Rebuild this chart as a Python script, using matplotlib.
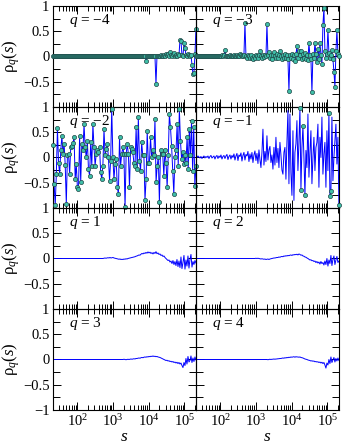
import numpy as np
import matplotlib.pyplot as plt
from matplotlib.ticker import LogLocator, FixedLocator, FixedFormatter, NullFormatter

plt.rcParams['font.family'] = ['Liberation Serif', 'DejaVu Serif']
plt.rcParams['mathtext.fontset'] = 'custom'
plt.rcParams['mathtext.rm'] = 'Liberation Serif'
plt.rcParams['mathtext.it'] = 'Liberation Serif:italic'

# s range of the scan (log spaced)
s_min, s_max = 21, 2.1e5

# rho_q(s)
q_m4 = [
    0, 0, 0, 0, 0, 0, 0, 0, 0, 0,
    0, 0, 0, 0, 0, 0, 0, 0, 0, 0,
    0, 0, 0, 0, 0, 0, 0, 0, 0, 0,
    0, 0, 0, 0, 0, 0, 0, 0, 0, 0,
    0, 0, 0, 0, 0, 0, 0, 0, 0, 0,
    0, 0, 0, 0, 0, 0, 0, 0, 0, 0,
    0, 0, 0, 0, 0, 0, 0, 0, 0, 0,
    0, 0, 0, 0, 0, 0, 0, 0, 0, 0,
    0, 0, 0, 0, 0, 0, 0, 0, 0, 0,
    0, 0, 0.01, -0.08, 0, 0.01, 0, 0, 0.01, 0,
    0, 0.01, 0, -0.55, 0, 0.01, 0, 0.01, 0.02, 0,
    0.01, 0.03, 0.01, 0.04, 0.02, 0.05, 0.01, 0.08, 0.03, 0,
    0.04, 0.07, 0.01, 0.03, 0, 0.05, 0.02, 0.33, 0.31, 0.02,
    0.01, 0.26, 0.17, 0.03, 0, 0.04, 0.02, 0.01, 0.03, -0.16,
    -0.35, -0.33, 0.05, 0.55]

q_m3 = [
    0, 0, 0, 0, 0, 0, 0, 0, 0, 0,
    0, 0, 0, 0, 0, 0, 0, 0, 0, 0,
    0, 0, 0, 0, 0, 0,
    0.02, 0, 0.03, 0.12, 0.01, 0, 0.01, 0, 0.02, 0,
    0.01, 0, 0.02, 0, 0.01, 0.03, 0, 0.01, 0.04, 0.02,
    0, 0.01, 0.03, 0.67, 0.01, -0.02, 0.02, 0, -0.03, 0.02,
    -0.02, -0.05, 0.01, -0.03, 0.02, 0, -0.02, 0.03, 0.1, 0,
    -0.03, 0.02, -0.01, 0.03, 0, 0.64, 0.02, 0.08, -0.02, 0.03,
    -0.04, 0.02, 0.08, 0, -0.03, 0.04, -0.02, 0.02, 0.1, 0,
    -0.04, 0.03, -0.02, 0.05, -0.03, 0.02, -0.05, -0.69, 0.03, -0.02,
    0.05, -0.04, 0.02, -0.08, 0.04, 0.2, -0.03, 0.1, 0.02, 0.1,
    -0.05, 0.05, -0.02, 0.06, -0.04, 0.03, -0.06, 0.26, 0.02, -0.05,
    -0.71, 0.04, -0.03, 0.27, 0.05, -0.1, 0.15, -0.04, 0.27, 0.03,
    -0.15, 0.63, 0.96, 0.1, -0.02, 0.05, 0.53, 0.06, -0.03, 0.02,
    0.12, -0.05, -0.3, -0.6, 0.1, 0.53, 0.05, 0]

q_m2 = [
    0.25, -0.52, -0.95, -0.33, 0.58, -0.10, -0.33, 0.14, 0.43, 0.07,
    0.27, -0.14, -0.92, 0.04, 0.07, -0.33, 0.20, 0.23, 0.28, 0.40,
    -0.43, -0.13, -0.59, -0.62, 0.43, -0.49, 0.27, 0.14, 0.66, 0.20,
    0.0, 0.33, -0.23, -0.36, 0.30, -0.16, 0.66, 0.20, -0.16, 0.07,
    0.14, 0.10, 0.20, -0.29, -0.43, -0.16, 0.56, 0.04, 0.17, 0.27,
    0.0, -0.46, -0.06, 0.97, 0.0, -0.43, -0.13, -0.03, -0.59, -0.72,
    0.40, -0.16, 0.07, 0.20, 0.07, -0.99, 0.07, 0.27, 0.07, -0.59,
    0.20, 0.17, 0.10, -0.10, -0.16, 0.60, -0.23, 0.80, -0.06, -0.26,
    0.30, 0.04, 0.04, -0.85, -0.43, 0.53, -0.10, -0.10, 0.40, 0.0,
    0.14, 0.04, 0.76, -0.49, -0.16, 0.0, -0.89, 0.14, 0.07, 0.07,
    -0.36, 0.14, -0.10, -0.59, 0.04, 0.86, 0.60, 0.23, -0.26, -0.72,
    0.0, 0.14, 0.66, -0.16, 0.96, 0.33, -0.03, 0.10, -0.13, 0.04,
    -0.10, 0.40, -0.23, 0.56, 0.04, 0.73, -0.27, 0.61, -0.57, -0.16]

q_m1 = [
    0.02, 0.0, 0.03, 0.01, -0.01, 0.02, -0.02, 0.01, 0.03, -0.01,
    0.02, 0.0, 0.03, -0.02, 0.02, 0.04, -0.01, 0.01, 0.03, -0.03,
    0.02, 0.04, -0.02, 0.03, 0.0, 0.05, -0.03, 0.02, 0.04, -0.02,
    0.03, 0.06, -0.04, 0.02, 0.05, -0.03, 0.04, 0.0, 0.07, -0.05,
    0.03, 0.08, -0.06, 0.05, 0.02, 0.09, -0.07, 0.04, 0.1, -0.05,
    0.06, 0.03, 0.12, -0.08, 0.07, -0.03, 0.1, -0.1, 0.05, 0.13,
    -0.06, 0.08, -0.12, 0.15, -0.04, -0.2, 0.1, 0.56, -0.15, 0.12,
    -0.08, 0.43, -0.05, 0.15, 0.22, -0.1, 0.05, -0.23, 0.2, -0.15,
    0.4, -0.1, 0.18, -0.2, 0.3, 0.05, -0.25, -0.33, 0.1, 0.2,
    -0.43, 0.3, 0.93, -0.52, 0.86, -0.3, -0.75, 0.53, -0.85, 0.1,
    0.27, 0.73, -0.26, 0.3, 0.98, -0.64, 0.2, 0.62, 0.0, -0.74,
    0.14, -0.2, 0.86, -0.39, 0.1, 0.53, -0.52, 0.0, 0.4, -0.26,
    0.2, 0.3, 0.66, -0.59, 0.4, 0.0, 0.8, -0.33, 0.07, 0.3,
    -0.59, 0.53, -0.26, 0.89, -0.76, -0.67, 0.8, -0.46, 0.0, 0.33,
    0.66, -0.13, 0.4, -0.95]
# points of q=-1 that carry a symbol
q_m1_marked = [104, 105, 107, 109, 133, 134, 135, 143]

q_p1 = [
    0, 0, 0, 0, 0, 0, 0, 0, 0, 0,
    0, 0, 0, 0, 0, 0, 0, 0, 0, 0,
    0, 0, 0, 0, 0, 0, 0, 0, 0, 0,
    0, 0, 0, 0, 0, 0, 0, 0, 0, 0,
    0, 0, 0, 0, 0, 0, 0, 0, 0, 0,
    0.0, 0.005, 0.01, 0.005, 0.01, 0.015, 0.01, 0.02, 0.01, 0.015, 0.02, 0.01, 0.005, 0.0,
    -0.005, -0.01, -0.015, -0.01, -0.02, -0.015, -0.02, -0.01, -0.015, -0.005, -0.01, 0.0,
    0.005, 0.01, 0.015, 0.02, 0.025,
    0.03, 0.035, 0.045, 0.05, 0.06, 0.07, 0.065, 0.085, 0.1, 0.09, 0.11, 0.1, 0.12, 0.105,
    0.13, 0.11,
    0.125, 0.1, 0.115, 0.09, 0.12, 0.1, 0.135, 0.095, 0.11, 0.08, 0.09, 0.06, 0.07, 0.04,
    0.05, 0.02,
    0.0, -0.02, -0.04, -0.03, -0.07, -0.05, -0.1, -0.04, -0.12, -0.06, -0.14, -0.02, -0.16,
    -0.05,
    -0.18, 0.03, -0.2, -0.08, 0.06, -0.21, -0.03, -0.15, 0.05, -0.19, -0.02, 0.08, -0.17,
    -0.06, -0.12, -0.04, -0.09]

q_p2 = [
    0, 0, 0, 0, 0, 0, 0, 0, 0, 0,
    0, 0, 0, 0, 0, 0, 0, 0, 0, 0,
    0, 0, 0, 0, 0, 0, 0, 0, 0, 0,
    0, 0, 0, 0, 0, 0, 0, 0, 0, 0,
    0, 0, 0, 0, 0, 0, 0, 0, 0, 0,
    0, 0, 0, 0, 0, 0, 0, 0, 0, 0,
    0.005, 0.0, 0.005, 0.0, -0.005, -0.01, -0.005, -0.01, -0.015, -0.01,
    -0.02, -0.015, -0.01, -0.02, -0.01, -0.005, 0.0, 0.005, 0.01, 0.01,
    0.015, 0.02, 0.02, 0.03, 0.025, 0.035, 0.04, 0.035, 0.05, 0.045,
    0.055, 0.05, 0.06, 0.055, 0.065, 0.07, 0.06, 0.075, 0.07, 0.08,
    0.075, 0.085, 0.07, 0.09, 0.08, 0.065, 0.07, 0.05, 0.045, 0.03,
    0.025, 0.01, 0.0, -0.015, -0.03, -0.025, -0.045,
    -0.04, -0.06, -0.05, -0.08, -0.06, -0.09, -0.07, -0.11, -0.06, -0.1,
    -0.08, -0.13, -0.05, -0.12, 0.0, -0.15, -0.03, -0.1, 0.06, -0.14,
    -0.02, 0.05, -0.12, -0.03, 0.04, -0.08, -0.05]

q_p3 = [
    0, 0, 0, 0, 0, 0, 0, 0, 0, 0,
    0, 0, 0, 0, 0, 0, 0, 0, 0, 0,
    0, 0, 0, 0, 0, 0, 0, 0, 0, 0,
    0, 0, 0, 0, 0, 0, 0, 0, 0, 0,
    0, 0, 0, 0, 0, 0, 0, 0, 0, 0,
    0, 0, 0, 0, 0, 0, 0, 0, 0, 0,
    0, 0, 0, 0, 0, 0, 0, 0, 0, 0,
    0.0, 0.005, 0.0, -0.005, 0.0, 0.005, 0.0, 0.005, 0.01, 0.005, 0.01, 0.015, 0.01, 0.02,
    0.02, 0.025, 0.03, 0.025, 0.035, 0.04, 0.035, 0.045, 0.05, 0.045, 0.055, 0.05, 0.06, 0.055,
    0.065, 0.06, 0.07, 0.06, 0.065, 0.055, 0.06, 0.05, 0.045, 0.04, 0.03, 0.02, 0.01,
    0.0, -0.01, -0.02, -0.015, -0.03, -0.025, -0.04, -0.035, -0.05, -0.04,
    -0.06, -0.05, -0.07, -0.055, -0.08, -0.06, -0.09, -0.07, -0.12,
    -0.16, -0.06, -0.12, 0.02, -0.09, 0.06, -0.05, -0.02, 0.07, -0.06, 0.03, -0.04, 0.05, -0.01]

q_p4 = [
    0, 0, 0, 0, 0, 0, 0, 0, 0, 0,
    0, 0, 0, 0, 0, 0, 0, 0, 0, 0,
    0, 0, 0, 0, 0, 0, 0, 0, 0, 0,
    0, 0, 0, 0, 0, 0, 0, 0, 0, 0,
    0, 0, 0, 0, 0, 0, 0, 0, 0, 0,
    0, 0, 0, 0, 0, 0, 0, 0, 0, 0,
    0, 0, 0, 0, 0, 0, 0, 0, 0, 0,
    0.0, 0.0, -0.005, 0.0, 0.005, 0.0, 0.005, 0.005, 0.01, 0.005, 0.01, 0.01, 0.015, 0.015,
    0.02, 0.02, 0.025, 0.03, 0.025, 0.035, 0.03, 0.04, 0.035, 0.045, 0.04, 0.05, 0.045, 0.05,
    0.055, 0.045, 0.055, 0.05, 0.05, 0.045, 0.05, 0.04, 0.035, 0.03, 0.02, 0.01, 0.005,
    0.0, -0.01, -0.015, -0.02, -0.03, -0.025, -0.035, -0.03, -0.045, -0.04,
    -0.05, -0.045, -0.06, -0.05, -0.07, -0.055, -0.08, -0.06, -0.11,
    -0.17, -0.07, -0.11, 0.0, -0.08, 0.05, -0.06, -0.01, 0.04, -0.05, 0.02, -0.03, 0.03, -0.02]

q_values = ['\u22124', '\u22123', '\u22122', '\u22121', '1', '2', '3', '4']
series = [q_m4, q_m3, q_m2, q_m1, q_p1, q_p2, q_p3, q_p4]
with_symbols = [True, True, True, False, False, False, False, False]

line_col = '#0000ff'
sym_face = '#3fbfa8'
sym_edge = '#1e4545'

fig, axes = plt.subplots(4, 2, figsize=(3.42, 4.44), dpi=100)
fig.subplots_adjust(left=0.155, right=0.991, top=0.9865, bottom=0.0766,
                    hspace=0, wspace=0)

for k, ax in enumerate(axes.flat):
    row, col = divmod(k, 2)
    vals = np.array(series[k], dtype=float)
    s = np.geomspace(s_min, s_max, len(vals))
    ax.patch.set_visible(False)
    ax.plot(s, vals, '-', color=line_col, lw=0.7, zorder=2)
    if with_symbols[k]:
        ax.plot(s, vals, 'o', ms=3.0, mfc=sym_face, mec=sym_edge, mew=0.5,
                clip_on=False, zorder=3)
    if k == 3:
        idx = np.array(q_m1_marked)
        ax.plot(s[idx], vals[idx], 'o', ms=3.0, mfc=sym_face, mec=sym_edge,
                mew=0.5, clip_on=False, zorder=3)

    ax.set_xscale('log')
    ax.set_xlim(s_min, s_max)
    ax.set_ylim(-1, 1)
    ax.xaxis.set_major_locator(LogLocator(base=10, numticks=12))
    ax.xaxis.set_minor_locator(LogLocator(base=10, subs=np.arange(2, 10), numticks=12))
    ax.xaxis.set_minor_formatter(NullFormatter())
    ax.yaxis.set_major_locator(FixedLocator([-1, -0.5, 0, 0.5, 1]))
    ax.yaxis.set_minor_locator(FixedLocator([-0.75, -0.25, 0.25, 0.75]))
    if row == 3:
        ax.yaxis.set_major_formatter(FixedFormatter(['\u22121', '\u22120.5', '0', '0.5', '1']))
    else:
        ax.yaxis.set_major_formatter(FixedFormatter(['', '\u22120.5', '0', '0.5', '1']))

    ax.tick_params(which='both', direction='in', top=True, right=True,
                   labelsize=10.5, pad=2.5, width=0.7)
    ax.tick_params(axis='x', which='major', length=6)
    ax.tick_params(axis='x', which='minor', length=3.5)
    ax.tick_params(axis='y', which='major', length=6)
    ax.tick_params(axis='y', which='minor', length=5)
    for sp in ax.spines.values():
        sp.set_linewidth(0.8)

    if col == 1:
        ax.tick_params(labelleft=False)
    else:
        ax.set_ylabel(r'$\mathrm{\rho}_q(s)$', fontsize=12)
        ax.yaxis.set_label_coords(-0.215, 0.5)
    if row < 3:
        ax.tick_params(labelbottom=False)
    else:
        ax.set_xlabel('$s$', fontsize=12.5, labelpad=0)

    ax.text(0.11, 0.855, '$q$ = ' + q_values[k], transform=ax.transAxes,
            fontsize=11, va='center', ha='left')

fig.savefig('out.png', dpi=100)
